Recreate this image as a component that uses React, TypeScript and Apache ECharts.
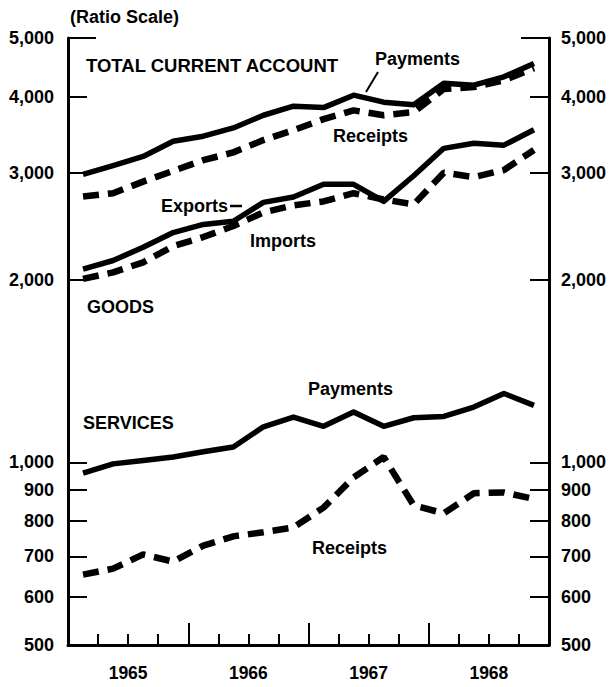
import React, { useEffect, useRef } from 'react';
import * as echarts from 'echarts';

// Quarterly observations, 1965 Q1 .. 1968 Q4 (millions of dollars, ratio scale)
const quarters = [
  '1965 Q1', '1965 Q2', '1965 Q3', '1965 Q4',
  '1966 Q1', '1966 Q2', '1966 Q3', '1966 Q4',
  '1967 Q1', '1967 Q2', '1967 Q3', '1967 Q4',
  '1968 Q1', '1968 Q2', '1968 Q3', '1968 Q4',
];
const yearLabels = ['1965', '1966', '1967', '1968'];
const yTickValues = [500, 600, 700, 800, 900, 1000, 2000, 3000, 4000, 5000];
const yLongTick = [5000];

const totalPayments = [2980, 3080, 3190, 3380, 3445, 3555, 3730, 3860, 3840, 4025, 3920, 3880, 4210, 4180, 4315, 4540];
const totalReceipts = [2740, 2775, 2900, 3020, 3145, 3240, 3395, 3525, 3675, 3800, 3730, 3775, 4120, 4150, 4260, 4460];
const goodsExports = [2080, 2150, 2260, 2390, 2465, 2495, 2680, 2735, 2870, 2870, 2690, 2965, 3290, 3355, 3330, 3530];
const goodsImports = [2005, 2055, 2135, 2270, 2350, 2450, 2580, 2650, 2690, 2775, 2710, 2660, 3000, 2950, 3030, 3270];
const servicesPayments = [960, 994, 1007, 1020, 1041, 1060, 1144, 1187, 1146, 1210, 1146, 1184, 1190, 1233, 1298, 1241];
const servicesReceipts = [653, 668, 705, 686, 729, 755, 767, 781, 842, 944, 1020, 849, 824, 889, 892, 870];

const FONT = '"Liberation Sans", Arial, Helvetica, sans-serif';

export default function App() {
  const ref = useRef<HTMLDivElement>(null);

  useEffect(() => {
    const chart = echarts.init(ref.current as HTMLDivElement, null, { renderer: 'svg' });
    const lg = (v: number) => Math.log10(v);
    const toData = (arr: number[]) => arr.map((v, i) => [i + 0.5, lg(v)]);
    const yMin = lg(500);
    const yMax = lg(5000);
    const tickVals = yTickValues.map(lg);
    const longTickVals = yLongTick.map(lg);
    const fmt = (v: number) => Math.round(Math.pow(10, v)).toLocaleString('en-US');

    const labelStyle = { color: '#000', fontWeight: 'bold' as const, fontSize: 18, fontFamily: FONT };

    const solid = (name: string, arr: number[]) => ({
      type: 'line', name, data: toData(arr), symbol: 'none', silent: true,
      xAxisIndex: 0, yAxisIndex: 0,
      lineStyle: { color: '#000', width: 5.5, join: 'round' },
      itemStyle: { color: '#000' },
    });
    const dashed = (name: string, arr: number[]) => ({
      type: 'line', name, data: toData(arr), symbol: 'none', silent: true,
      xAxisIndex: 0, yAxisIndex: 0,
      lineStyle: { color: '#000', width: 6.5, type: [16, 9] },
      itemStyle: { color: '#000' },
    });

    const txt = (text: string, x: number, y: number, size = 18) => ({
      type: 'text', x, y, silent: true,
      style: {
        text, font: `bold ${size}px ${FONT}`, fill: '#000',
        textAlign: 'left', align: 'left', textVerticalAlign: 'middle', verticalAlign: 'middle',
      },
    });

    const yAxisBase = (position: 'left' | 'right') => ({
      type: 'value', position, min: yMin, max: yMax,
      splitLine: { show: false },
    });

    chart.setOption({
      animation: false,
      backgroundColor: '#fff',
      grid: { left: 68, right: 61, top: 38, bottom: 42, containLabel: false },
      xAxis: [
        {
          type: 'value', position: 'bottom', min: 0, max: quarters.length, interval: 1,
          axisLine: { show: true, onZero: false, lineStyle: { color: '#000', width: 3 } },
          axisTick: { show: true, inside: true, length: 11, lineStyle: { color: '#000', width: 2 } },
          axisLabel: { show: false }, splitLine: { show: false },
        },
        {
          type: 'value', position: 'bottom', min: 0, max: quarters.length, interval: 4,
          axisLine: { show: false, onZero: false },
          axisTick: { show: true, inside: true, length: 22, lineStyle: { color: '#000', width: 2 } },
          axisLabel: { show: false }, splitLine: { show: false },
        },
        {
          type: 'category', position: 'bottom', data: yearLabels, boundaryGap: true,
          axisLine: { show: false, onZero: false }, axisTick: { show: false },
          axisLabel: { ...labelStyle, fontSize: 17.5, margin: 19 }, splitLine: { show: false },
        },
      ],
      yAxis: [
        {
          ...yAxisBase('left'),
          axisLine: { show: true, onZero: false, lineStyle: { color: '#000', width: 3 } },
          axisTick: { show: true, inside: true, length: 19, customValues: tickVals, lineStyle: { color: '#000', width: 2 } },
          axisLabel: { ...labelStyle, margin: 14, customValues: tickVals, formatter: fmt },
        },
        {
          ...yAxisBase('right'),
          axisLine: { show: true, onZero: false, lineStyle: { color: '#000', width: 3 } },
          axisTick: { show: true, inside: true, length: 19, customValues: tickVals, lineStyle: { color: '#000', width: 2 } },
          axisLabel: { ...labelStyle, margin: 12, customValues: tickVals, formatter: fmt },
        },
        {
          ...yAxisBase('left'),
          axisLine: { show: false, onZero: false },
          axisTick: { show: true, inside: true, length: 28, customValues: longTickVals, lineStyle: { color: '#000', width: 2 } },
          axisLabel: { show: false },
        },
        {
          ...yAxisBase('right'),
          axisLine: { show: false, onZero: false },
          axisTick: { show: true, inside: true, length: 28, customValues: longTickVals, lineStyle: { color: '#000', width: 2 } },
          axisLabel: { show: false },
        },
      ],
      series: [
        solid('Total payments', totalPayments),
        dashed('Total receipts', totalReceipts),
        solid('Goods exports', goodsExports),
        dashed('Goods imports', goodsImports),
        solid('Services payments', servicesPayments),
        dashed('Services receipts', servicesReceipts),
      ],
      graphic: [
        txt('(Ratio Scale)', 70, 17),
        txt('TOTAL CURRENT ACCOUNT', 86, 65, 18.5),
        txt('Payments', 375, 59),
        { type: 'line', silent: true, shape: { x1: 366, y1: 92, x2: 378, y2: 72 }, style: { stroke: '#000', lineWidth: 2 } },
        txt('Receipts', 333, 136),
        txt('Exports', 161, 206),
        { type: 'line', silent: true, shape: { x1: 230, y1: 206, x2: 242, y2: 206 }, style: { stroke: '#000', lineWidth: 2.5 } },
        txt('Imports', 250, 241),
        txt('GOODS', 87, 307),
        txt('Payments', 308, 389),
        txt('SERVICES', 83, 423),
        txt('Receipts', 312, 548),
      ],
    });

    return () => chart.dispose();
  }, []);

  return (
    <div
      ref={ref}
      style={{ position: 'fixed', left: 0, top: 0, width: 610, height: 687, background: '#fff' }}
    />
  );
}
